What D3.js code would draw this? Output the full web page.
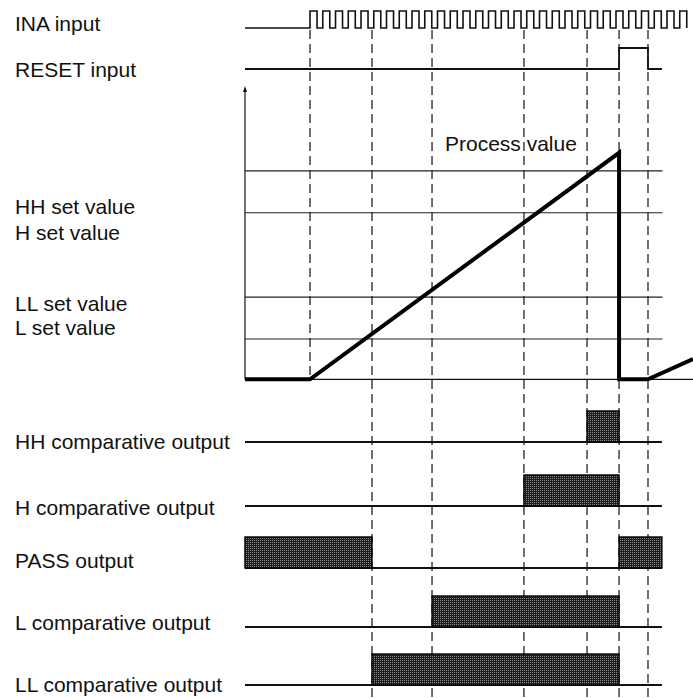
<!DOCTYPE html>
<html><head><meta charset="utf-8">
<script src="https://cdn.jsdelivr.net/npm/d3@7"></script>
<style>
body{margin:0;background:#fff}
svg{display:block}
text{font-family:"Liberation Sans",Arial,Helvetica,sans-serif;font-size:21px;fill:#111}
</style>
</head><body>
<svg id="c" width="693" height="698"></svg>
<script>
// ---- data (time in INA pulse periods, process value in % of axis) ----
const inaPulses = [0,1,2,3,4,5,6,7,8,9,10,11,12,13,14,15,16,17,18,19,20,21,22,23,24,25,26,27,28,29];
const inaDuty = 0.55;
const resetPulses = [[24.24, 26.51]];
const eventTimes = [0, 4.86, 9.57, 16.78, 21.73, 24.24, 26.51];
const setLevels = [71.3, 57.0, 28.1, 13.8];
const processTimes = [-5.1, 0, 24.24, 24.24, 26.51, 30.04];
const processValues = [0, 0, 77.5, 0, 0, 6.9];
const outputNames = ["HH comparative output", "H comparative output", "PASS output", "L comparative output", "LL comparative output"];
const outputOn = [
  [[21.73, 24.24]],
  [[16.78, 24.24]],
  [[-5.1, 4.86], [24.24, 27.6]],
  [[9.57, 24.24]],
  [[4.86, 24.24]]
];
const inputLabels = ["INA input", "RESET input"];
const setLabels = ["HH set value", "H set value", "LL set value", "L set value"];
const pvLabel = "Process value";

// ---- layout ----
const tStart = -5.1, tEnd = 30.04, tSignalEnd = 27.6;
const x = d3.scaleLinear().domain([tStart, tEnd]).range([245, 693]);
const yPV = d3.scaleLinear().domain([0, 100]).range([379.3, 87]);
const svg = d3.select("#c");

const defs = svg.append("defs");
const pat = defs.append("pattern").attr("id", "stip").attr("width", 2).attr("height", 2).attr("patternUnits", "userSpaceOnUse");
pat.append("rect").attr("width", 2).attr("height", 2).attr("fill", "#1c1c1c");
pat.append("rect").attr("width", 1).attr("height", 1).attr("fill", "#8c8c8c");

const line = d3.line().x(d => d[0]).y(d => d[1]);

// dashed event lines
svg.append("g").selectAll("line").data(eventTimes).join("line")
  .attr("x1", d => x(d)).attr("x2", d => x(d))
  .attr("y1", 30).attr("y2", (d, i) => i === 0 ? 379 : 698)
  .attr("stroke", "#111").attr("stroke-width", 1.2).attr("stroke-dasharray", "9,5");

// INA pulse train
const inaY0 = 28, inaY1 = 11;
const inaPts = [[x(tStart), inaY0]];
inaPulses.forEach(p => {
  inaPts.push([x(p), inaY0], [x(p), inaY1], [x(p + inaDuty), inaY1], [x(p + inaDuty), inaY0]);
});
svg.append("path").attr("d", line(inaPts)).attr("fill", "none").attr("stroke", "#111").attr("stroke-width", 1.6);

// RESET
const rY0 = 69, rY1 = 48;
const rPts = [[x(tStart), rY0]];
resetPulses.forEach(([a, b]) => rPts.push([x(a), rY0], [x(a), rY1], [x(b), rY1], [x(b), rY0]));
rPts.push([x(tSignalEnd), rY0]);
svg.append("path").attr("d", line(rPts)).attr("fill", "none").attr("stroke", "#111").attr("stroke-width", 1.8);

// process value axes
svg.append("line").attr("x1", x(tStart)).attr("x2", x(tStart)).attr("y1", yPV(0)).attr("y2", yPV(100) + 2)
  .attr("stroke", "#111").attr("stroke-width", 1.2);
svg.append("path").attr("d", `M${x(tStart)},${yPV(100) - 1}l-2,6h4z`).attr("fill", "#111");
svg.append("line").attr("x1", x(tStart)).attr("x2", x(tEnd)).attr("y1", yPV(0)).attr("y2", yPV(0))
  .attr("stroke", "#111").attr("stroke-width", 1.2);
svg.append("g").selectAll("line").data(setLevels).join("line")
  .attr("x1", x(tStart)).attr("x2", x(tSignalEnd + 0.05)).attr("y1", d => yPV(d)).attr("y2", d => yPV(d))
  .attr("stroke", "#222").attr("stroke-width", 1.1);

// process value line
svg.append("path")
  .attr("d", line(processTimes.map((t, i) => [x(t), yPV(processValues[i])])))
  .attr("fill", "none").attr("stroke", "#000").attr("stroke-width", 4).attr("stroke-linejoin", "miter");

svg.append("text").attr("x", 445).attr("y", 150.5).text(pvLabel);

// outputs
const outBase = [442, 506, 568, 627, 685];
const boxH = 31;
outputNames.forEach((name, i) => {
  const g = svg.append("g");
  g.append("line").attr("x1", x(tStart)).attr("x2", x(tSignalEnd)).attr("y1", outBase[i]).attr("y2", outBase[i])
    .attr("stroke", "#111").attr("stroke-width", 1.8);
  g.selectAll("rect").data(outputOn[i]).join("rect")
    .attr("x", d => x(d[0])).attr("width", d => x(d[1]) - x(d[0]))
    .attr("y", outBase[i] - boxH).attr("height", boxH)
    .attr("fill", "url(#stip)").attr("stroke", "#000").attr("stroke-width", 1.4);
});

// labels
const inputLabelY = [31, 77];
svg.append("g").selectAll("text").data(inputLabels).join("text")
  .attr("x", 15).attr("y", (d, i) => inputLabelY[i]).text(d => d);
const setLabelY = [214, 240, 311, 335];
svg.append("g").selectAll("text").data(setLabels).join("text")
  .attr("x", 15).attr("y", (d, i) => setLabelY[i]).text(d => d);
const outLabelY = [449, 515, 568, 630, 692];
svg.append("g").selectAll("text").data(outputNames).join("text")
  .attr("x", 15).attr("y", (d, i) => outLabelY[i]).text(d => d);
</script>
</body></html>
